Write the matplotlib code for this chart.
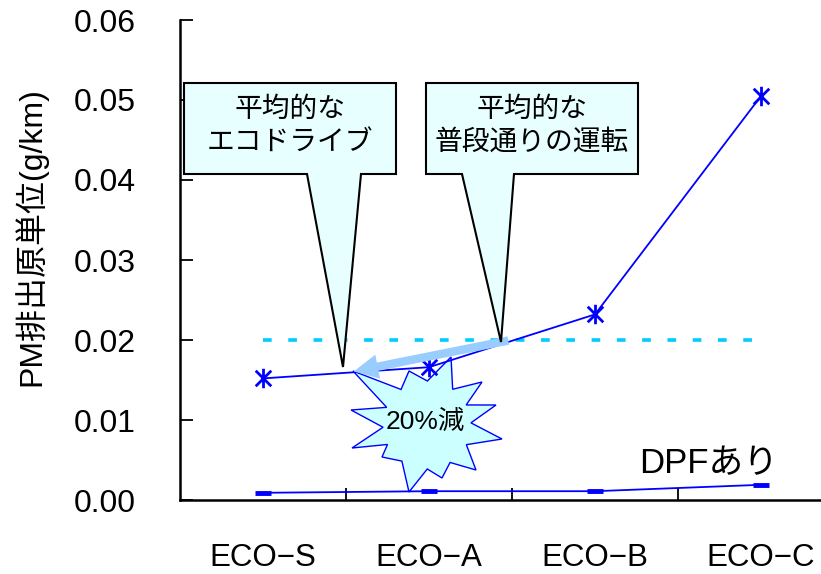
import numpy as np
import matplotlib
matplotlib.use("Agg")
import matplotlib.pyplot as plt
from matplotlib.patches import Polygon, FancyArrowPatch
from matplotlib.path import Path

# ---------------- data ----------------
categories = ["ECO\u2212S", "ECO\u2212A", "ECO\u2212B", "ECO\u2212C"]
pm_no_dpf = [0.0152, 0.0166, 0.0232, 0.0505]
pm_dpf = [0.0009, 0.0011, 0.0011, 0.0019]
reference_level = 0.02
y_ticks = [0.00, 0.01, 0.02, 0.03, 0.04, 0.05, 0.06]
y_tick_labels = ["0.00", "0.01", "0.02", "0.03", "0.04", "0.05", "0.06"]
callout_left = "平均的な\nエコドライブ"
callout_right = "平均的な\n普段通りの運転"
burst_text = "20%減"
dpf_label = "DPFあり"
y_label = "PM排出原単位(g/km)"

LATIN = "Liberation Sans"
JP = ["Liberation Sans", "Noto Sans CJK JP"]
plt.rcParams["font.family"] = JP

W, H = 821, 574
fig = plt.figure(figsize=(W / 100, H / 100), dpi=100)
# axes: left spine at x=180 px, bottom at y=500 px, top (0.06) at y=20 px
ax = fig.add_axes([180 / W, (H - 500) / H, 664 / W, 480 / H])

x = np.arange(len(categories))
ax.set_xlim(-0.5, len(categories) - 0.5)
ax.set_ylim(0, 0.06)


def P(px, py):
    """convert reference-pixel position to data coordinates (for decorations)"""
    return ((px - 264) / 166.0, (500 - py) / 8000.0)


# Excel-style asterisk marker: X plus vertical bar
star_marker = Path(
    [(-0.8, -0.8), (0.8, 0.8), (-0.8, 0.8), (0.8, -0.8), (0, -1.0), (0, 1.0)],
    [Path.MOVETO, Path.LINETO, Path.MOVETO, Path.LINETO, Path.MOVETO, Path.LINETO],
)

# reference dashed line
ax.plot([x[0], x[-1]], [reference_level, reference_level], color="#00CCFF",
        lw=2.6, dashes=(2.4, 4.6), solid_capstyle="butt", dash_capstyle="butt", zorder=2)

# starburst
center = (428, 425)
outer_pts = [(354, 371), (410, 371), (452, 357), (483, 382), (497, 405), (503, 439),
             (477, 470), (443, 478), (410, 492), (383, 457), (353, 448), (352, 410)]
angs = [np.arctan2(center[1] - py, px - center[0]) for px, py in outer_pts]
verts = []
n = len(outer_pts)
for i in range(n):
    verts.append(P(*outer_pts[i]))
    a1, a2 = angs[i], angs[(i + 1) % n]
    d = (a2 - a1)
    d = (d + np.pi) % (2 * np.pi) - np.pi
    am = a1 + d / 2
    r = 44
    verts.append(P(center[0] + r * np.cos(am), center[1] - r * np.sin(am)))
ax.add_patch(Polygon(verts, closed=True, facecolor="#CCFFFF", edgecolor="#0000FF",
                     lw=1.0, zorder=1))
ax.text(*P(426, 422), burst_text, ha="center", va="center", fontsize=19,
        family=JP, color="black", zorder=6)

# main series
ax.plot(x, pm_no_dpf, color="#0000FF", lw=1.3, marker=star_marker, markersize=14,
        markeredgewidth=2.0, zorder=3, clip_on=False)
ax.plot(x, pm_dpf, color="#0000FF", lw=1.3, marker="_", markersize=11,
        markeredgewidth=3.5, zorder=3, clip_on=False)

# arrow
arr = FancyArrowPatch(P(512, 340), P(352, 372),
                      arrowstyle="simple,head_width=1.6,head_length=1.6,tail_width=0.55",
                      mutation_scale=11, color="#99CCFF", lw=0, zorder=4)
ax.add_patch(arr)


# callouts
def callout(box, base, tip, text):
    x0, y0, x1, y1 = box
    pts = [(x0, y0), (x1, y0), (x1, y1), (base[1], y1), tip, (base[0], y1), (x0, y1)]
    ax.add_patch(Polygon([P(*p) for p in pts], closed=True, facecolor="#E8FFFF",
                         edgecolor="black", lw=1.5, zorder=5, clip_on=False))
    cx = (x0 + x1) / 2
    l1, l2 = text.split("\n")
    ax.text(*P(cx, 110), l1, ha="center", va="center", fontsize=20, family=JP, zorder=6)
    ax.text(*P(cx, 143), l2, ha="center", va="center", fontsize=20, family=JP, zorder=6)


callout((185, 83, 397, 174), (308, 362), (344, 367), callout_left)
callout((427, 83, 639, 174), (463, 515), (502, 342), callout_right)

# DPF label
ax.text(*P(710, 464), dpf_label, ha="center", va="center", fontsize=25, family=JP)

# axes styling
for s in ["top", "right"]:
    ax.spines[s].set_visible(False)
for s in ["left", "bottom"]:
    ax.spines[s].set_linewidth(1.8)
    ax.spines[s].set_color("black")

ax.set_yticks(y_ticks)
ax.set_yticklabels(y_tick_labels, family=LATIN, fontsize=23)
ax.tick_params(axis="y", direction="in", length=9, width=1.3, pad=32)

ax.set_xticks(x[:-1] + 0.5)
ax.set_xticklabels([])
ax.tick_params(axis="x", which="major", direction="in", length=9, width=1.3)
ax.set_xticks(x, minor=True)
ax.set_xticklabels(categories, minor=True, family=LATIN, fontsize=22.5)
ax.tick_params(axis="x", which="minor", length=0, pad=31)

fig.text(30 / W, 1 - 237 / H, y_label, rotation=90, ha="center", va="center",
         fontsize=23, family=JP)

fig.savefig("out.png", dpi=100)
